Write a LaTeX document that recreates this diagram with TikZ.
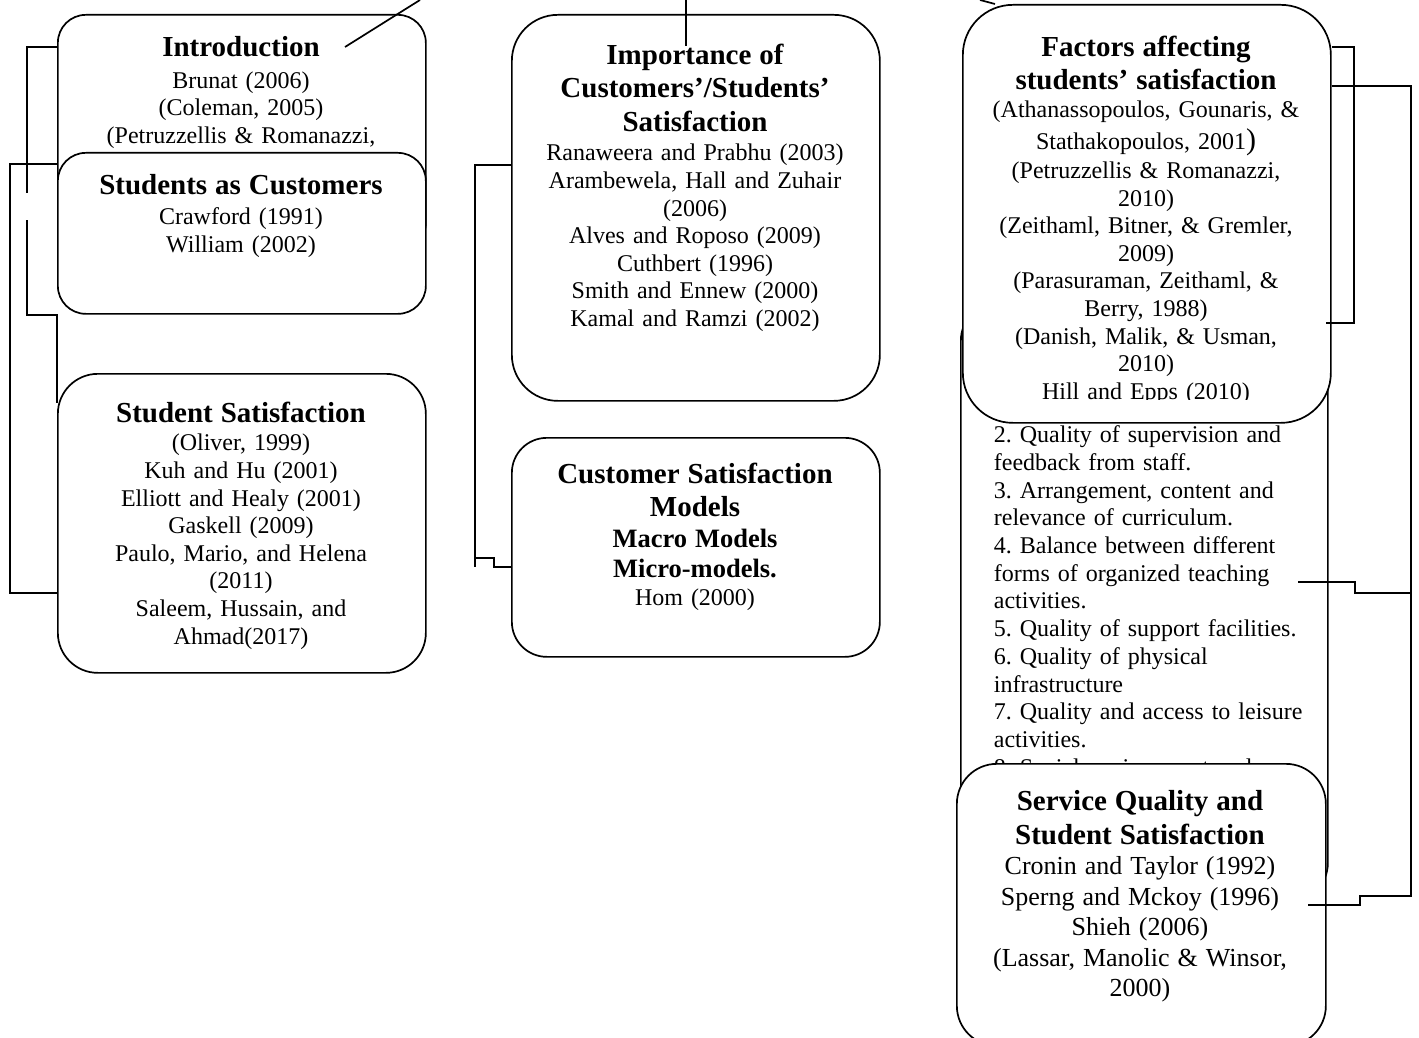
\documentclass[tikz,border=0pt]{standalone}
\usepackage{fontspec}
\setmainfont{Liberation Serif}
\newcommand{\Ttl}[1]{{\fontsize{29}{33.5}\selectfont\bfseries #1\par}}
\newcommand{\SubTtl}[1]{{\fontsize{26.5}{30.5}\selectfont\bfseries #1\par}}
\newcommand{\BigTxt}[1]{{\fontsize{26}{30.5}\selectfont #1\par}}
\begin{document}
\begin{tikzpicture}[x=1pt,y=-1pt,line width=1.7pt,
  box/.style={draw,fill=white,rounded corners=#1,anchor=north west,inner sep=0pt},
  box/.default=30pt,
  txt/.style={inner sep=0pt,align=center,anchor=north,font=\fontsize{24}{27.6}\selectfont\frenchspacing},
  lst/.style={inner sep=0pt,align=left,anchor=north west,text width=330pt,font=\fontsize{24}{27.7}\selectfont\frenchspacing}]
\useasboundingbox (0,0) rectangle (1419,1038);

% ---- left column
\node[box=28pt,minimum width=368pt,minimum height=236pt] (intro) at (57,14) {};
\node[txt,text width=360pt] (tintro) at (241,36)
  {\Ttl{Introduction}\vspace{3.5pt}Brunat (2006)\par(Coleman, 2005)\par(Petruzzellis \& Romanazzi,\par};
\coordinate (d1a) at (420,0);
\coordinate (d1b) at (345,47);
\draw (d1a) -- (d1b);

\node[box=28pt,minimum width=368pt,minimum height=161pt] (stud) at (57,152) {};
\node[txt,text width=360pt] (tstud) at (241,174)
  {\Ttl{Students as Customers}\vspace{2pt}Crawford (1991)\par William (2002)\par};

\node[box=40pt,minimum width=368pt,minimum height=299pt] (satis) at (57,373) {};
\node[txt,text width=360pt] (tsatis) at (241,401)
  {\Ttl{Student Satisfaction}\vspace{1pt}(Oliver, 1999)\par Kuh and Hu (2001)\par Elliott and Healy (2001)\par Gaskell (2009)\par Paulo, Mario, and Helena\par(2011)\par Saleem, Hussain, and\par Ahmad(2017)\par};

\coordinate (l1e) at (27,193);
\coordinate (l2s) at (27,220);
\draw (intro.west |- 0,47) -| (l1e);
\draw (l2s) |- (stud.south west) -- (satis.north west |- 0,403);
\draw (intro.west |- 0,164) -- (10,164) |- (satis.west |- 0,593);

% ---- middle column
\node[box=46pt,minimum width=368pt,minimum height=386pt] (imp) at (511,14) {};
\node[txt,text width=360pt] (timp) at (695,43)
  {\Ttl{Importance of\\Customers’/Students’\\Satisfaction}\vspace{2pt}Ranaweera and Prabhu (2003)\par Arambewela, Hall and Zuhair\par(2006)\par Alves and Roposo (2009)\par Cuthbert (1996)\par Smith and Ennew (2000)\par Kamal and Ramzi (2002)\par};
\coordinate (topm) at (686,0);
\coordinate (impt) at (686,46);
\draw (topm) -- (impt);

\node[box=35pt,minimum width=368pt,minimum height=219pt] (csm) at (511,437) {};
\node[txt,text width=360pt] (tcsm) at (695,462)
  {\Ttl{Customer Satisfaction\\Models}\SubTtl{Macro Models\\Micro-models.}Hom (2000)\par};

\coordinate (m1e) at (475,567);
\coordinate (m2s) at (475,558);
\draw (imp.west |- 0,165) -| (m1e);
\draw (m2s) -- (494,558) |- (csm.west |- 0,567);

% ---- right column
\node[box=40pt,minimum width=367pt,minimum height=602pt] (lst) at (960,300) {};
\node[lst] (tlst) at (993,425)
  {2. Quality of supervision and\\feedback from staff.\\3. Arrangement, content and\\relevance of curriculum.\\4. Balance between different\\forms of organized teaching\\activities.\\5. Quality of support facilities.\\6. Quality of physical\\infrastructure\\7. Quality and access to leisure\\activities.\\8. Social environment and};

\node[box=50pt,minimum width=368pt,minimum height=418pt] (fac) at (962,4) {};
\begin{scope}
\clip (962,0) rectangle (1330,399);
\node[txt,text width=360pt] (tfac) at (1146,35)
  {\Ttl{Factors affecting\\students’ satisfaction}(Athanassopoulos, Gounaris, \&\par\vspace{5pt}Stathakopoulos, 2001{\fontsize{30}{30}\selectfont)}\par\vspace{1pt}(Petruzzellis \& Romanazzi,\par 2010)\par(Zeithaml, Bitner, \& Gremler,\par 2009)\par(Parasuraman, Zeithaml, \&\par Berry, 1988)\par(Danish, Malik, \& Usman,\par 2010)\par Hill and Epps (2010)\par};
\end{scope}

\node[box=40pt,minimum width=369pt,minimum height=282pt] (serv) at (956,763) {};
\node[txt,text width=360pt] (tserv) at (1140,790)
  {\Ttl{Service Quality and\\Student Satisfaction}\BigTxt{Cronin and Taylor (1992)\\Sperng and Mckoy (1996)\\Shieh (2006)\\(Lassar, Manolic \& Winsor,\\2000)}};

\coordinate (d2a) at (980,0);
\draw (d2a) -- (fac.north -| 995,0);
\coordinate (r1e) at (1326,323);
\draw (fac.east |- 0,47) -| (1354,323) -- (r1e);
\coordinate (r2e) at (1308,905);
\draw (fac.east |- 0,86) -| (1411,896) -| (1360,905) -- (r2e);
\coordinate (r3s) at (1298,582);
\draw (r3s) -| (1355,593) -- (1411,593);
\end{tikzpicture}
\end{document}
